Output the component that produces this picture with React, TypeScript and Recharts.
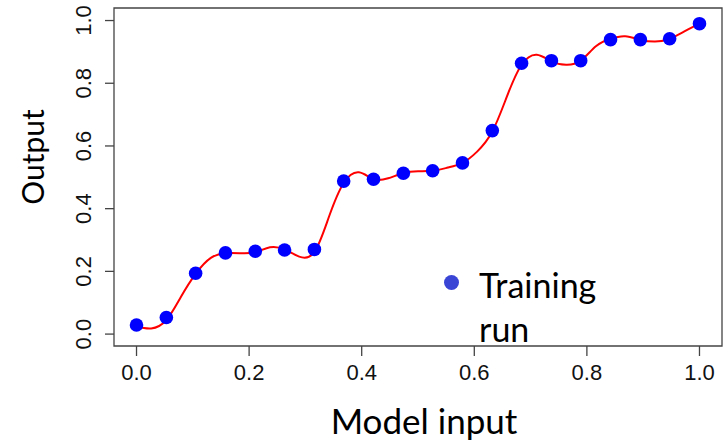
import React from 'react';
import { ComposedChart, Scatter, Line, XAxis, YAxis, ReferenceArea, Label, Legend } from 'recharts';

const inputs = [0, 0.053, 0.105, 0.158, 0.211, 0.263, 0.316, 0.368, 0.421, 0.474, 0.526, 0.579, 0.632, 0.684, 0.737, 0.789, 0.842, 0.895, 0.947, 1.0];
const outputs = [0.029, 0.053, 0.194, 0.259, 0.264, 0.268, 0.27, 0.488, 0.494, 0.513, 0.521, 0.546, 0.649, 0.864, 0.872, 0.872, 0.939, 0.939, 0.942, 0.99];

const fitX = [0, 0.026, 0.053, 0.079, 0.105, 0.132, 0.158, 0.184, 0.211, 0.237, 0.263, 0.289, 0.316, 0.342, 0.368, 0.395, 0.421, 0.447, 0.474, 0.5, 0.526, 0.553, 0.579, 0.605, 0.632, 0.658, 0.684, 0.711, 0.737, 0.763, 0.789, 0.816, 0.842, 0.868, 0.895, 0.921, 0.947, 0.974, 1.0];
const fitY = [0.025, 0.018, 0.045, 0.119, 0.192, 0.243, 0.258, 0.258, 0.261, 0.277, 0.27, 0.247, 0.262, 0.375, 0.482, 0.516, 0.494, 0.497, 0.513, 0.519, 0.521, 0.531, 0.546, 0.582, 0.646, 0.758, 0.859, 0.891, 0.87, 0.859, 0.872, 0.918, 0.942, 0.95, 0.939, 0.933, 0.942, 0.966, 0.99];

const xTicks = [0, 0.2, 0.4, 0.6, 0.8, 1.0];
const yTicks = [0, 0.2, 0.4, 0.6, 0.8, 1.0];

const points = inputs.map((x, i) => ({ x, y: outputs[i] }));
const fit = fitX.map((x, i) => ({ x, y: fitY[i] }));

const TICK_FONT = '"Liberation Sans", Arial, sans-serif';
const TITLE_FONT = 'Lato, "Open Sans", sans-serif';

const YTick = (props: any) => {
  const { x, y, payload } = props;
  return (
    <text x={x} y={y} transform={`rotate(-90, ${x}, ${y})`} textAnchor="middle" fontFamily={TICK_FONT} fontSize={22} fill="#111">
      {Number(payload.value).toFixed(1)}
    </text>
  );
};

const Dot = (props: any) => <circle cx={props.cx} cy={props.cy} r={6.8} fill="#0000ff" />;

const renderLegend = () => (
  <div style={{ display: 'flex', alignItems: 'flex-start', fontFamily: TITLE_FONT, fontSize: 34, lineHeight: '44px', color: '#000' }}>
    <span style={{ width: 15, height: 15, borderRadius: '50%', background: '#3a45d6', marginTop: 12, marginRight: 20, flex: 'none' }} />
    <span style={{ width: 140 }}>Training run</span>
  </div>
);

export default function App() {
  return (
    <div style={{ position: 'absolute', left: 0, top: 0, width: 725, height: 441, background: '#fff' }}>
      <ComposedChart width={725} height={441} margin={{ top: 8, right: 3, bottom: 0, left: 0 }}>
        <XAxis
          type="number"
          dataKey="x"
          domain={[-0.04, 1.04]}
          ticks={xTicks}
          allowDataOverflow
          axisLine={false}
          tickSize={10}
          tickMargin={8}
          height={95}
          tickLine={{ stroke: '#444', strokeWidth: 1.3 }}
          tick={{ fontFamily: TICK_FONT, fontSize: 22, fill: '#111' }}
          tickFormatter={(v: number) => v.toFixed(1)}
        >
          <Label
            content={(p: any) => (
              <text x={p.viewBox.x + p.viewBox.width / 2 + 6} y={p.viewBox.y + 88} textAnchor="middle" fontFamily={TITLE_FONT} fontSize={35} fill="#000">
                Model input
              </text>
            )}
          />
        </XAxis>
        <YAxis
          type="number"
          dataKey="y"
          domain={[-0.038, 1.04]}
          ticks={yTicks}
          allowDataOverflow
          axisLine={false}
          width={114}
          tickSize={9}
          tickMargin={14}
          tickLine={{ stroke: '#444', strokeWidth: 1.3 }}
          tick={<YTick />}
        >
          <Label
            content={(p: any) => {
              const cx = 43.5;
              const cy = p.viewBox.y + p.viewBox.height / 2 - 20;
              return (
                <text x={cx} y={cy} transform={`rotate(-90, ${cx}, ${cy})`} textAnchor="middle" fontFamily={TITLE_FONT} fontSize={30} fill="#000">
                  Output
                </text>
              );
            }}
          />
        </YAxis>
        <ReferenceArea x1={-0.04} x2={1.04} y1={-0.038} y2={1.04} fill="none" stroke="#444" strokeWidth={1.3} ifOverflow="visible" />
        <Scatter data={points} dataKey="y" fill="#0000ff" shape={<Dot />} isAnimationActive={false} legendType="none" />
        <Line data={fit} dataKey="y" type="natural" stroke="#ff0000" strokeWidth={2} dot={false} activeDot={false} isAnimationActive={false} legendType="none" />
        <Legend layout="vertical" align="center" verticalAlign="middle" wrapperStyle={{ left: 444, top: 263, width: 200 }} content={renderLegend} />
      </ComposedChart>
    </div>
  );
}
